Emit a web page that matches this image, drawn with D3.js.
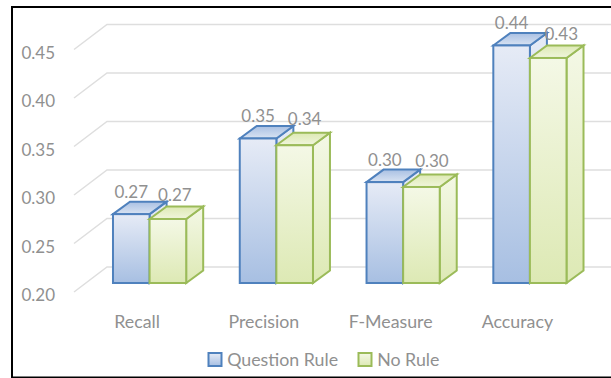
<!DOCTYPE html>
<html>
<head>
<meta charset="utf-8">
<script src="https://cdn.jsdelivr.net/npm/d3@7/dist/d3.min.js"></script>
<style>
html,body{margin:0;padding:0;background:#fff;}
svg{display:block;}
text{font-family:Lato,"Open Sans",sans-serif;fill:#909090;}
</style>
</head>
<body>
<svg id="chart" width="611" height="378"></svg>
<script>
const categories = ["Recall", "Precision", "F-Measure", "Accuracy"];
const questionRule = [0.271, 0.349, 0.304, 0.4449];
const noRule = [0.266, 0.342, 0.299, 0.432];
const yTicks = [0.20, 0.25, 0.30, 0.35, 0.40, 0.45];
const seriesNames = ["Question Rule", "No Rule"];

const svg = d3.select("#chart");

// The bars stand on a plane part way into the floor of the 3D box.
const depthX = 17, depthY = 12.5;
const wallX = 33, wallY = 25;
const y = d3.scaleLinear().domain([0.20, 0.45]).range([283, 40.5]);
const x0 = d3.scaleBand().domain(categories).range([86.2, 593.3]);
const x1 = d3.scaleBand().domain([0, 1]).range([-36.6, 36.6]);

const defs = svg.append("defs");
function gradient(id, stops) {
  const g = defs.append("linearGradient").attr("id", id)
    .attr("x1", 0).attr("y1", 0).attr("x2", 0).attr("y2", 1);
  stops.forEach((c, i) => g.append("stop")
    .attr("offset", i / (stops.length - 1)).attr("stop-color", c));
}
gradient("qFront", ["#e6ebf6", "#a7bfe2"]);
gradient("qTop", ["#a9c0e3", "#d9e3f2"]);
gradient("qSide", ["#e6ebf6", "#b9cbe7"]);
gradient("nFront", ["#f4f8e6", "#dde9b4"]);
gradient("nTop", ["#dde9b4", "#f0f5dc"]);
gradient("nSide", ["#f4f8e6", "#dde9b4"]);

const palette = [
  {stroke: "#4f81bd", front: "url(#qFront)", top: "url(#qTop)", side: "url(#qSide)"},
  {stroke: "#9bbb59", front: "url(#nFront)", top: "url(#nTop)", side: "url(#nSide)"}
];

// Gridlines run along the left wall, then across the back wall.
const gridFrontOffset = 9;
const grid = svg.append("g").attr("fill", "none")
  .attr("stroke", "#dedede").attr("stroke-width", 1.5);
yTicks.forEach(t => {
  const yBack = y(t) - (wallY - gridFrontOffset);
  const yFront = y(t) + gridFrontOffset;
  grid.append("path").attr("d", d3.line()([
    [74, yFront], [74 + wallX, yBack], [611, yBack]
  ]));
});

svg.append("g").selectAll("text").data(yTicks).join("text")
  .attr("x", 55).attr("y", t => y(t) + 18.4)
  .attr("text-anchor", "end").attr("font-size", 17)
  .text(d3.format(".2f"));

// One cuboid per value, drawn series by series so No Rule overlaps Question Rule.
[questionRule, noRule].forEach((values, s) => {
  const style = palette[s];
  const g = svg.append("g").attr("stroke", style.stroke)
    .attr("stroke-width", 2).attr("stroke-linejoin", "miter");
  values.forEach((v, i) => {
    const left = x0(categories[i]) + x0.bandwidth() / 2 + x1(s);
    const right = left + x1.bandwidth();
    const top = y(v), base = y(0.20);
    g.append("path").attr("fill", style.side).attr("d", d3.line()([
      [right, top], [right + depthX, top - depthY],
      [right + depthX, base - depthY], [right, base]
    ]) + "Z");
    g.append("path").attr("fill", style.top).attr("d", d3.line()([
      [left, top], [left + depthX, top - depthY],
      [right + depthX, top - depthY], [right, top]
    ]) + "Z");
    g.append("rect").attr("fill", style.front)
      .attr("x", left).attr("y", top)
      .attr("width", right - left).attr("height", base - top);
  });
});

// Value labels: Question Rule centred over its bar, No Rule nudged clear of its neighbour.
const labelShiftX = [[0, 0, 0, 0], [7, 10, 10.5, 13]];
const labelLift = [[16, 16, 16, 16], [17.5, 20, 20, 18]];
[questionRule, noRule].forEach((values, s) => {
  svg.append("g").selectAll("text").data(values).join("text")
    .attr("x", (v, i) => x0(categories[i]) + x0.bandwidth() / 2 + x1(s) + x1.bandwidth() / 2 + labelShiftX[s][i])
    .attr("y", (v, i) => y(v) - labelLift[s][i])
    .attr("text-anchor", "middle").attr("font-size", 17)
    .text(d3.format(".2f"));
});

svg.append("g").selectAll("text").data(categories).join("text")
  .attr("x", c => x0(c) + x0.bandwidth() / 2 - 12.5).attr("y", 328)
  .attr("text-anchor", "middle").attr("font-size", 17.8)
  .text(c => c);

// Legend
const legendX = [208.5, 358.5];
const legend = svg.append("g");
seriesNames.forEach((name, s) => {
  legend.append("rect").attr("x", legendX[s]).attr("y", 353)
    .attr("width", 13).attr("height", 13)
    .attr("fill", palette[s].front).attr("stroke", palette[s].stroke).attr("stroke-width", 2);
  legend.append("text").attr("x", legendX[s] + 18.7).attr("y", 366)
    .attr("font-size", 17.8).text(name);
});

// Outer frame
svg.append("path").attr("fill", "none").attr("stroke", "#000").attr("stroke-width", 2)
  .attr("d", d3.line()([[12, 378], [12, 7], [611, 7]]));
svg.append("path").attr("fill", "none").attr("stroke", "#000").attr("stroke-width", 1.5)
  .attr("d", d3.line()([[12, 377.2], [611, 377.2]]));
</script>
</body>
</html>
